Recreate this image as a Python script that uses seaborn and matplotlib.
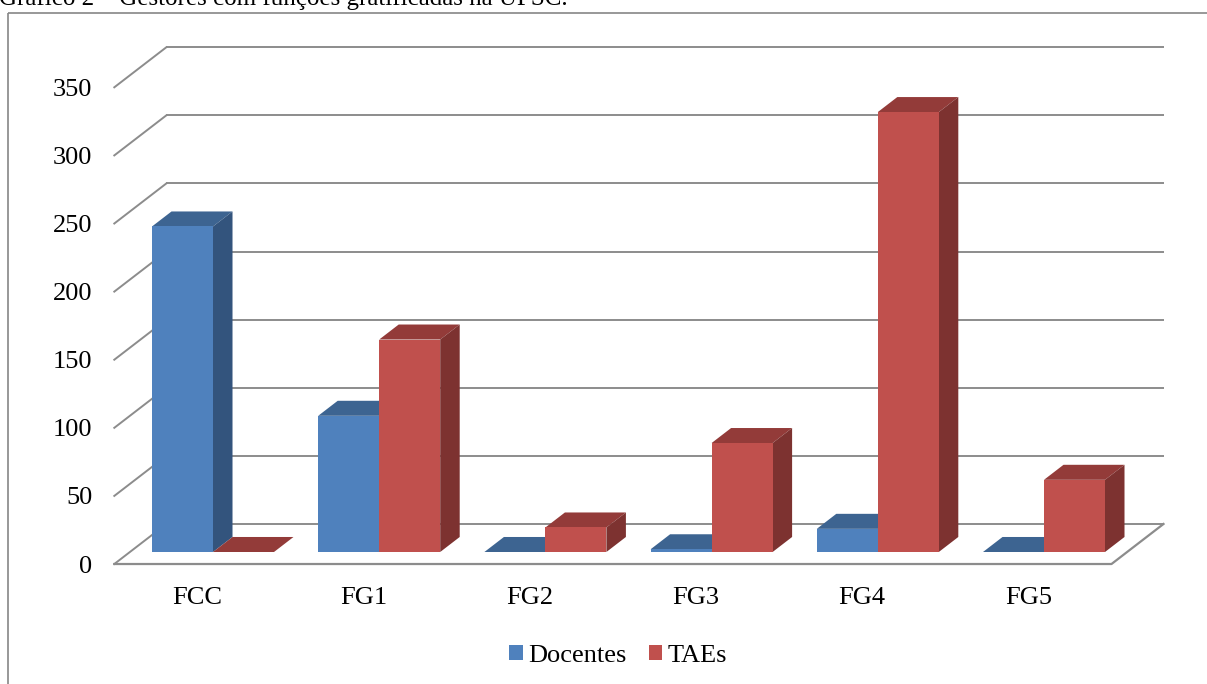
import matplotlib
matplotlib.use("Agg")
import matplotlib.pyplot as plt
from matplotlib.lines import Line2D
from matplotlib.patches import Polygon
import numpy as np
import pandas as pd
import seaborn as sns

# ---- data -------------------------------------------------------------
categories = ["FCC", "FG1", "FG2", "FG3", "FG4", "FG5"]
docentes = [239, 100, 0, 2, 17, 0]
taes = [0, 156, 18, 80, 323, 53]
series_names = ["Docentes", "TAEs"]
y_ticks = [0, 50, 100, 150, 200, 250, 300, 350]
title = "Gráfico 2 – Gestores com funções gratificadas na UFSC."

# ---- style ------------------------------------------------------------
front_colors = ["#4F81BD", "#C0504D"]
top_colors = ["#3D6491", "#933B39"]
side_colors = ["#33547D", "#7D3230"]
grid_color = "#8C8C8C"
FONT = ["Liberation Serif", "DejaVu Serif"]
FS = 19

# oblique "3-D" projection: full floor depth in data units
DEPTH_X = 0.313    # category units
DEPTH_Y = 29.4     # value units
BAR_FRONT = 0.30   # bar front face, fraction of floor depth
BAR_BACK = 0.675   # bar back face, fraction of floor depth

W, H = 1207, 684
DPI = 100
fig = plt.figure(figsize=(W / DPI, H / DPI), dpi=DPI)
fig.patch.set_facecolor("white")

# axes box (pixels, origin top-left) and its data mapping
ax_l, ax_r, ax_t, ax_b = 100, 1190, 20, 575
cx0, px_cat = 213.0, 166.2   # pixel x of category 0 centre, px per category
vy0, px_val = 552.0, 1.362   # pixel y of value 0 on bar plane, px per unit
ax = fig.add_axes([ax_l / W, 1 - ax_b / H, (ax_r - ax_l) / W, (ax_b - ax_t) / H])
ax.set_facecolor("none")
ax.set_axis_on()

df = pd.DataFrame({
    "categoria": categories * 2,
    "valor": docentes + taes,
    "grupo": [series_names[0]] * len(categories) + [series_names[1]] * len(categories),
})

sns.barplot(data=df, x="categoria", y="valor", hue="grupo", order=categories,
            hue_order=series_names, palette=front_colors, saturation=1,
            width=0.734, ax=ax, legend=True, linewidth=0)

ax.set_xlim((ax_l - cx0) / px_cat, (ax_r - cx0) / px_cat)
ax.set_ylim((vy0 - ax_b) / px_val, (vy0 - ax_t) / px_val)

n = len(categories)
fx, fy = -BAR_FRONT * DEPTH_X, -BAR_FRONT * DEPTH_Y          # front floor plane
bx, by = (1 - BAR_FRONT) * DEPTH_X, (1 - BAR_FRONT) * DEPTH_Y  # back wall plane
x_lo, x_hi = -0.5, n - 0.5

# back wall gridlines and left wall slants
for v in y_ticks:
    ax.add_line(Line2D([x_lo + bx, x_hi + bx], [v + by, v + by],
                       color=grid_color, lw=1.4, zorder=1, solid_capstyle="butt"))
    ax.add_line(Line2D([x_lo + fx, x_lo + bx], [v + fy, v + by],
                       color=grid_color, lw=1.4, zorder=1))
# floor outline (front and right edges)
ax.add_line(Line2D([x_lo + fx, x_hi + fx, x_hi + bx], [fy, fy, by],
                   color=grid_color, lw=1.6, zorder=1))

# extrude each seaborn bar into a box: top and side faces
ddx = (BAR_BACK - BAR_FRONT) * DEPTH_X
ddy = (BAR_BACK - BAR_FRONT) * DEPTH_Y
bars = []
for j, cont in enumerate(ax.containers):
    for bar in cont:
        bars.append((bar.get_x(), j, bar))
bars.sort(key=lambda t: t[0])
for k, (_, j, bar) in enumerate(bars):
    x0, w, h = bar.get_x(), bar.get_width(), bar.get_height()
    z = 3 + k
    top = Polygon([(x0, h), (x0 + w, h), (x0 + w + ddx, h + ddy), (x0 + ddx, h + ddy)],
                  closed=True, facecolor=top_colors[j], edgecolor="none", zorder=z)
    side = Polygon([(x0 + w, 0), (x0 + w + ddx, ddy), (x0 + w + ddx, h + ddy), (x0 + w, h)],
                   closed=True, facecolor=side_colors[j], edgecolor="none", zorder=z)
    ax.add_patch(top)
    ax.add_patch(side)
    bar.set_zorder(z + 0.5)

# axes decoration
for s in ax.spines.values():
    s.set_visible(False)
ax.set_xlabel("")
ax.set_ylabel("")
ax.set_xticks([i + fx for i in range(n)], categories, fontfamily=FONT, fontsize=FS)
ax.set_yticks([v + fy for v in y_ticks], [str(v) for v in y_ticks],
              fontfamily=FONT, fontsize=FS)
ax.tick_params(axis="both", length=0, colors="black")
ax.tick_params(axis="y", pad=5.5)
ax.tick_params(axis="x", pad=8.5)

# legend with small square keys
leg = ax.get_legend()
handles = leg.legend_handles
labels = [t.get_text() for t in leg.texts]
leg.remove()
fig.legend(handles, labels, loc="center", bbox_to_anchor=(618 / W, 1 - 656 / H),
           ncol=2, frameon=False, handlelength=0.5, handleheight=0.5,
           handletextpad=0.2, columnspacing=0.85,
           prop={"family": FONT, "size": FS})

# caption above the chart frame
fig.text(-1 / W, 1 - 5 / H, title, ha="left", va="baseline",
         fontfamily=FONT, fontsize=18, color="black")

# chart frame
fig.add_artist(Line2D([7.5 / W, 7.5 / W], [-0.01, 1 - 12.5 / H], transform=fig.transFigure,
                      color="#868686", lw=1.2, solid_capstyle="butt"))
fig.add_artist(Line2D([7.5 / W, 1.0], [1 - 12.5 / H, 1 - 12.5 / H], transform=fig.transFigure,
                      color="#868686", lw=1.2, solid_capstyle="butt"))

fig.savefig("out.png", dpi=DPI, facecolor="white")
